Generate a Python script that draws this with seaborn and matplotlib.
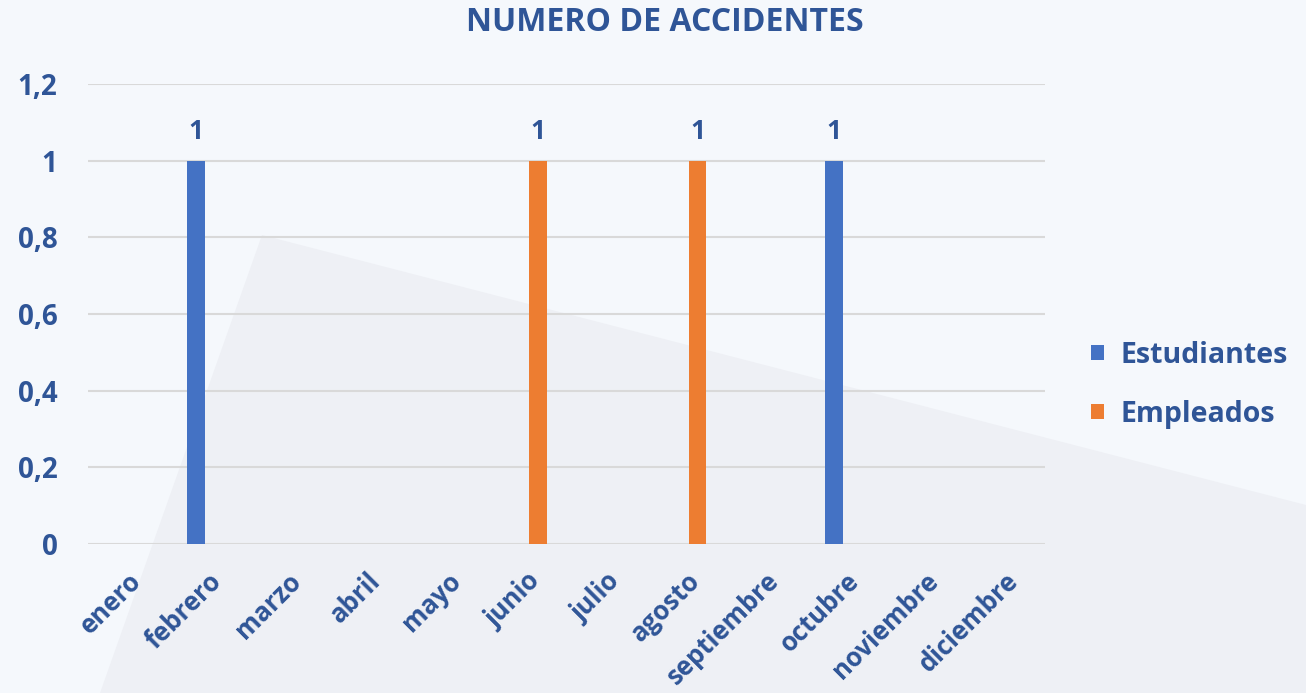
import pandas as pd
import seaborn as sns
from matplotlib import pyplot as plt
from matplotlib.patches import Polygon

# datos del grafico
meses = ['enero', 'febrero', 'marzo', 'abril', 'mayo', 'junio', 'julio',
         'agosto', 'septiembre', 'octubre', 'noviembre', 'diciembre']
estudiantes = [0, 1, 0, 0, 0, 0, 0, 0, 0, 1, 0, 0]
empleados = [0, 0, 0, 0, 0, 1, 0, 1, 0, 0, 0, 0]
y_ticks = [0, 0.2, 0.4, 0.6, 0.8, 1, 1.2]
y_tick_labels = ['0', '0,2', '0,4', '0,6', '0,8', '1', '1,2']

df = pd.DataFrame({
    'mes': meses * 2,
    'valor': estudiantes + empleados,
    'serie': ['Estudiantes'] * len(meses) + ['Empleados'] * len(meses),
})

txt_color = '#2F5597'
sns.set_style('white')
plt.rcParams['font.family'] = ['Open Sans', 'DejaVu Sans']

fig = plt.figure(figsize=(13.06, 6.93), dpi=100)
fig.patch.set_facecolor('#F5F8FC')

# forma gris clara del fondo (coordenadas en pixeles)
W, H = 1306, 693
pts = [(100, 693), (262, 235), (1306, 505), (1306, 693)]
fondo = Polygon([[x / W, 1 - y / H] for x, y in pts], closed=True,
                transform=fig.transFigure, facecolor='#EEF0F5',
                edgecolor='none', zorder=-1)
fig.patches.append(fondo)

ax = fig.add_axes([0.0674, 0.215, 0.7326, 0.664])
ax.set_facecolor('none')

sns.barplot(data=df, x='mes', y='valor', hue='serie',
            hue_order=['Estudiantes', 'Empleados'],
            palette=['#4472C4', '#ED7D31'], saturation=1, linewidth=0,
            width=0.58, gap=0.25, ax=ax, zorder=3)

for cont in ax.containers:
    labels = ['1' if b.get_height() > 0 else '' for b in cont]
    ax.bar_label(cont, labels=labels, padding=11, fontsize=19,
                 color=txt_color, fontweight='bold')

ax.set_ylim(0, 1.2)
ax.set_xlim(-0.5, len(meses) - 0.5)
ax.set_yticks(y_ticks)
ax.set_yticklabels(y_tick_labels)
ax.yaxis.grid(True, color='#D9D9D9', linewidth=1.5, zorder=0)
ax.set_axisbelow(True)
for s in ax.spines.values():
    s.set_visible(False)

ax.tick_params(axis='y', length=0, pad=22, labelsize=20, labelcolor=txt_color)
ax.tick_params(axis='x', length=0, pad=17, labelsize=18.5, labelcolor=txt_color)
for t in ax.get_yticklabels():
    t.set_fontweight('bold')
for t in ax.get_xticklabels():
    t.set_rotation(45)
    t.set_ha('right')
    t.set_rotation_mode('anchor')
    t.set_fontweight('bold')

ax.set_xlabel('')
ax.set_ylabel('')

fig.text(0.509, 0.967, 'NUMERO DE ACCIDENTES', ha='center', va='center',
         fontsize=23, fontweight='bold', color=txt_color)

sns.move_legend(ax, 'center left', bbox_to_anchor=(1.048, 0.346), frameon=False,
                title=None, fontsize=20.5, handlelength=0.45, handleheight=0.45,
                labelspacing=1.05, handletextpad=0.6, borderpad=0,
                borderaxespad=0)
for t in ax.get_legend().get_texts():
    t.set_color(txt_color)
    t.set_fontweight('bold')

fig.savefig('out.png', dpi=100, facecolor=fig.get_facecolor())
